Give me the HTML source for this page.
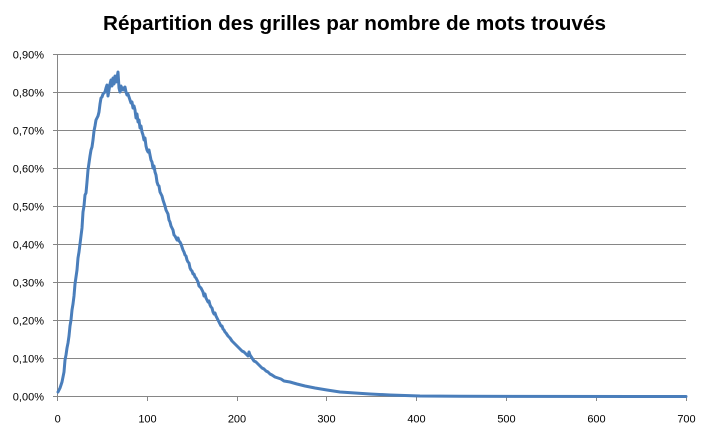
<!DOCTYPE html>
<html><head><meta charset="utf-8"><style>
html,body{margin:0;padding:0;background:#fff;}
svg{display:block;}
text{font-family:"Liberation Sans",sans-serif;fill:#000;}
</style></head><body>
<svg width="709" height="439" viewBox="0 0 709 439" xmlns="http://www.w3.org/2000/svg">
<rect width="709" height="439" fill="#fff"/>
<text x="354.5" y="30" font-size="20" font-weight="bold" text-anchor="middle" textLength="503" lengthAdjust="spacingAndGlyphs">Répartition des grilles par nombre de mots trouvés</text>
<g stroke="#868686" stroke-width="1" shape-rendering="crispEdges">
<line x1="53" y1="54.5" x2="686" y2="54.5"/>
<line x1="53" y1="92.5" x2="686" y2="92.5"/>
<line x1="53" y1="130.5" x2="686" y2="130.5"/>
<line x1="53" y1="168.5" x2="686" y2="168.5"/>
<line x1="53" y1="206.5" x2="686" y2="206.5"/>
<line x1="53" y1="244.5" x2="686" y2="244.5"/>
<line x1="53" y1="282.5" x2="686" y2="282.5"/>
<line x1="53" y1="320.5" x2="686" y2="320.5"/>
<line x1="53" y1="358.5" x2="686" y2="358.5"/>
<line x1="53" y1="396.5" x2="686" y2="396.5"/>
<line x1="57.5" y1="54" x2="57.5" y2="401"/>
<line x1="147.5" y1="396" x2="147.5" y2="401"/>
<line x1="237.5" y1="396" x2="237.5" y2="401"/>
<line x1="326.5" y1="396" x2="326.5" y2="401"/>
<line x1="416.5" y1="396" x2="416.5" y2="401"/>
<line x1="506.5" y1="396" x2="506.5" y2="401"/>
<line x1="596.5" y1="396" x2="596.5" y2="401"/>
<line x1="686.5" y1="396" x2="686.5" y2="401"/>
</g>
<g font-size="11" text-anchor="end">
<text x="44" y="58.5">0,90%</text>
<text x="44" y="96.5">0,80%</text>
<text x="44" y="134.5">0,70%</text>
<text x="44" y="172.5">0,60%</text>
<text x="44" y="210.5">0,50%</text>
<text x="44" y="248.5">0,40%</text>
<text x="44" y="286.5">0,30%</text>
<text x="44" y="324.5">0,20%</text>
<text x="44" y="362.5">0,10%</text>
<text x="44" y="400.5">0,00%</text>
</g>
<g font-size="11" text-anchor="middle">
<text x="57.7" y="422.5">0</text>
<text x="147.5" y="422.5">100</text>
<text x="237" y="422.5">200</text>
<text x="326.5" y="422.5">300</text>
<text x="416.5" y="422.5">400</text>
<text x="506.5" y="422.5">500</text>
<text x="596.5" y="422.5">600</text>
<text x="686.5" y="422.5">700</text>
</g>
<polyline fill="none" stroke="#4a7ebb" stroke-width="3" stroke-linejoin="round" stroke-linecap="round" points="
58,392 60,388 62,382 64,372 65,360 66,355 67,348 68,343 69,336 70,326 71,320 72,310 73,304 74,296 75,284 76,277 77,270 78,258 79,252 80,244 81,236 82,228 83,212 84,206 85,195 86,193 87,182 88,170 89,163 90,156 91,150 92,147 93,140 94,131 95,126 96,120 97,118 98,116 99,112 100,104 101,98 102,97 103,94 104,93 105,92 106,88 107,85 108,96 109,90 110,84 111,80 112,86 113,78 114,84 115,76 116,82 117,78 118,72 119,88 120,92 121,86 122,90 123,88 124,90 125,87 126,92 127,95 128,94 129,97 130,100 131,103 132,102 133,108 134,106 135,110 136,118 137,114 138,122 139,120 140,128 141,126 142,132 143,135 144,140 145,138 146,146 147,150 148,152 149,150 150,155 151,160 152,162 153,168 154,166 155,172 156,175 157,182 158,185 159,186 160,192 161,194 162,196 163,200 164,203 165,206 166,210 167,212 168,214 169,220 170,222 171,226 172,228 173,230 174,235 175,236 176,238 177,240 178,238 179,241 180,242 181,244 182,247 183,250 184,252 185,255 186,256 187,260 188,262 189,263 190,268 191,270 192,271 193,274 194,274 195,277 196,278 197,280 198,282 199,286 200,287 201,288 202,290 203,292 204,296 205,294 206,298 207,300 208,302 209,301 210,305 211,307 212,308 213,312 214,314 215,313 216,316 217,318 218,320 219,322 220,324 221,326 222,326 223,329 224,330 225,332 226,333 228,336 230,338 232,341 234,343 236,345 238,347 240,349 242,351 244,352 246,354 248,356 249,352 250,355 252,358 254,361 256,362 258,364 260,366 262,368 264,369 266,371 268,372 270,374 272,375 275,377 278,378 281,379 284,381 290,382 297,384 305,386 315,388 327,390 340,392 355,393 370,394 390,395 420,396 460,396.3 686,396.5"/>
</svg>
</body></html>
